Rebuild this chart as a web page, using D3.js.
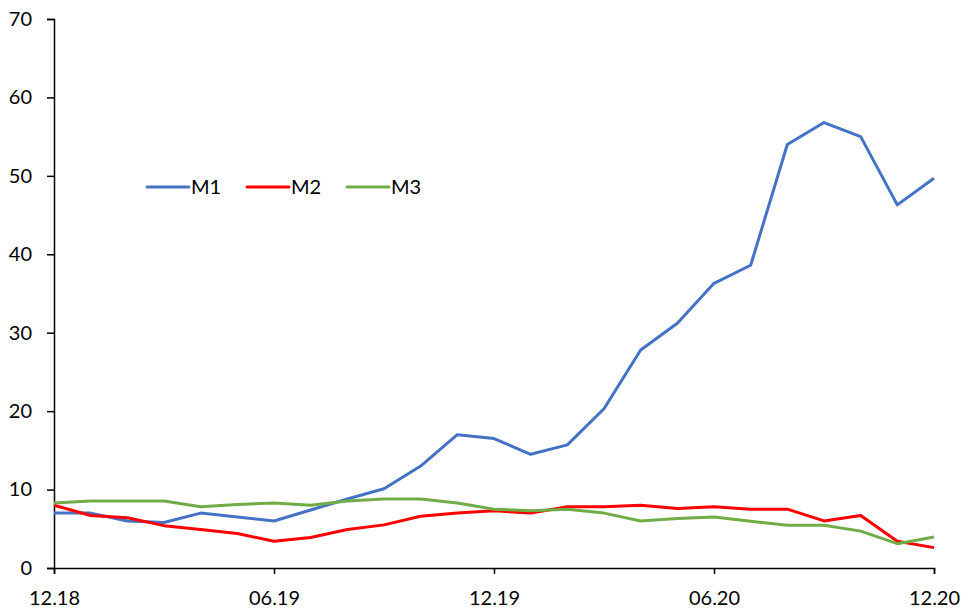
<!DOCTYPE html>
<html>
<head>
<meta charset="utf-8">
<script src="https://cdn.jsdelivr.net/npm/d3@7"></script>
<style>
  body { margin: 0; background: #fff; }
  #chart { width: 969px; height: 612px; }
  text { font-family: Lato, 'Open Sans', sans-serif; }
</style>
</head>
<body>
<div id="chart"></div>
<script>
const months = ['12.18', '01.19', '02.19', '03.19', '04.19', '05.19', '06.19', '07.19', '08.19', '09.19', '10.19', '11.19',
  '12.19', '01.20', '02.20', '03.20', '04.20', '05.20', '06.20', '07.20', '08.20', '09.20', '10.20', '11.20', '12.20']
const xTickLabels = ['12.18', '06.19', '12.19', '06.20', '12.20']
const yTicks = [0, 10, 20, 30, 40, 50, 60, 70]

const m1 = [7.0, 7.0, 6.0, 5.8, 7.0, 6.5, 6.0, 7.4, 8.8, 10.1, 13.0, 17.0, 16.5, 14.5, 15.7, 20.3,
  27.8, 31.2, 36.3, 38.6, 54.0, 56.8, 55.0, 46.3, 49.7]
const m2 = [8.0, 6.7, 6.4, 5.4, 4.9, 4.4, 3.4, 3.9, 4.9, 5.5, 6.6, 7.0, 7.3, 7.0, 7.8, 7.8,
  8.0, 7.6, 7.8, 7.5, 7.5, 6.0, 6.7, 3.4, 2.6]
const m3 = [8.3, 8.55, 8.55, 8.55, 7.8, 8.1, 8.3, 8.0, 8.55, 8.8, 8.8, 8.3, 7.5, 7.3, 7.5, 7.0,
  6.0, 6.3, 6.5, 5.95, 5.45, 5.45, 4.7, 3.1, 3.95]

const series = [
  { name: 'M1', values: m1, color: '#4472C4' },
  { name: 'M2', values: m2, color: '#FF0000' },
  { name: 'M3', values: m3, color: '#70AD47' }
]

const width = 969
const height = 612
const margin = { top: 19, right: 35, bottom: 44, left: 54 }
const innerW = width - margin.left - margin.right
const innerH = height - margin.top - margin.bottom

const svg = d3.select('#chart').append('svg')
  .attr('width', width)
  .attr('height', height)

const g = svg.append('g').attr('transform', `translate(${margin.left},${margin.top})`)

const x = d3.scalePoint().domain(months).range([0, innerW])
const y = d3.scaleLinear().domain([0, 70]).range([innerH, 0])

// Axes
const xAxis = g.append('g')
  .attr('transform', `translate(0,${innerH})`)
  .call(d3.axisBottom(x).tickValues(xTickLabels).tickSize(6).tickPadding(17))
xAxis.select('.domain').attr('stroke', '#000').attr('stroke-width', 1.5)
xAxis.selectAll('.tick line').attr('stroke', '#000').attr('stroke-width', 1.5)
xAxis.selectAll('.tick text').attr('font-size', '20px').attr('fill', '#000')

const yAxis = g.append('g')
  .call(d3.axisLeft(y).tickValues(yTicks).tickSize(7).tickPadding(15))
yAxis.select('.domain').attr('stroke', '#000').attr('stroke-width', 1.5)
yAxis.selectAll('.tick line').attr('stroke', '#000').attr('stroke-width', 1.5)
yAxis.selectAll('.tick text').attr('font-size', '20px').attr('fill', '#000')

// Lines
const line = d3.line()
  .x((d, i) => x(months[i]))
  .y(d => y(d))

series.forEach(s => {
  g.append('path')
    .datum(s.values)
    .attr('fill', 'none')
    .attr('stroke', s.color)
    .attr('stroke-width', 3)
    .attr('stroke-linejoin', 'round')
    .attr('d', line)
})

// Legend
const legend = svg.append('g').attr('transform', 'translate(147,187)')
series.forEach((s, i) => {
  const lg = legend.append('g').attr('transform', `translate(${i * 100},0)`)
  lg.append('line')
    .attr('x1', 0).attr('x2', 42)
    .attr('y1', 0).attr('y2', 0)
    .attr('stroke', s.color)
    .attr('stroke-width', 3)
    .attr('stroke-linecap', 'round')
  lg.append('text')
    .attr('x', 44)
    .attr('y', 7)
    .attr('font-size', '20px')
    .attr('fill', '#000')
    .text(s.name)
})
</script>
</body>
</html>
